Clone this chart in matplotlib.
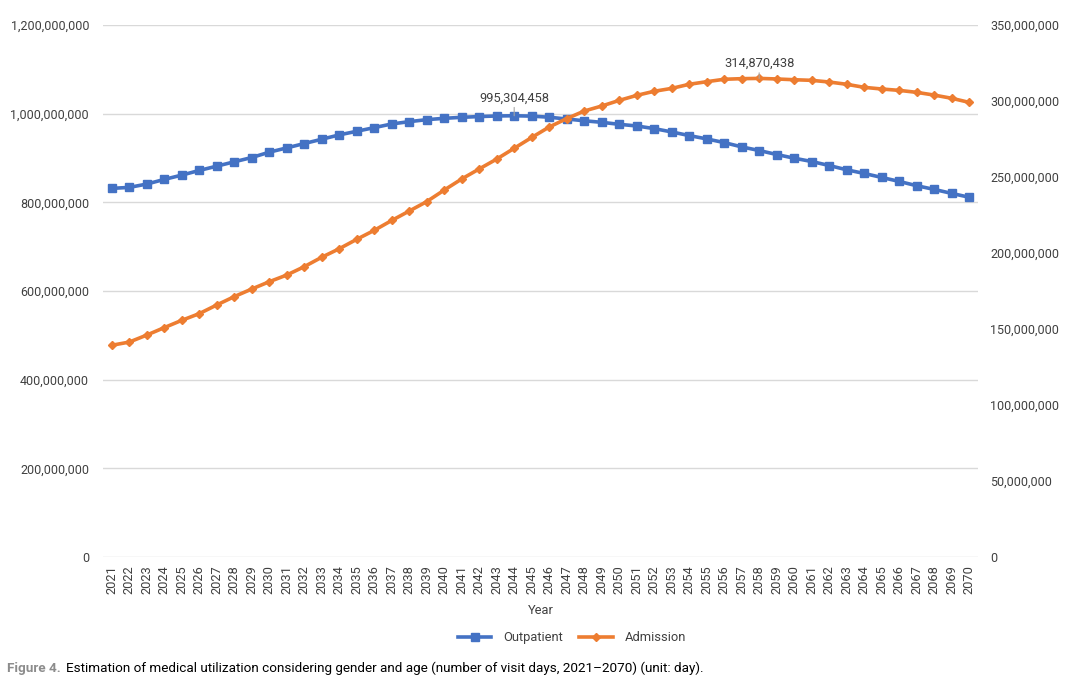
import matplotlib
matplotlib.use("Agg")
import matplotlib.pyplot as plt
from matplotlib.ticker import FuncFormatter
from matplotlib.lines import Line2D

years = list(range(2021, 2071))

outpatient_m = [
    831.5, 833.7, 841.2, 851.7, 861.4, 871.9, 881.6, 891.4, 901.1, 913.1,
    922.8, 932.6, 942.3, 952.1, 960.3, 968.5, 976.8, 982.0, 986.5, 989.5,
    991.8, 993.5, 994.8, 995.304458, 994.5, 992.0, 988.0, 984.0, 980.5, 976.0,
    972.3, 966.3, 958.8, 950.6, 943.1, 934.8, 925.1, 916.9, 907.9, 899.6,
    892.1, 883.1, 873.4, 865.2, 856.2, 847.2, 837.5, 829.2, 820.2, 811.5,
]
admission_m = [
    139.3, 141.4, 146.0, 150.9, 155.7, 160.1, 165.8, 171.3, 176.3, 181.1,
    185.5, 191.0, 197.2, 202.8, 209.0, 214.9, 221.4, 227.6, 233.8, 241.4,
    248.7, 255.3, 261.8, 268.9, 276.0, 282.9, 288.4, 293.4, 296.7, 300.4,
    303.7, 306.4, 308.3, 311.0, 312.7, 314.3, 314.7, 314.870438, 314.5, 314.0,
    313.6, 312.5, 311.0, 309.0, 307.9, 307.0, 305.7, 303.9, 301.8, 299.1,
]
outpatient = [v * 1e6 for v in outpatient_m]
admission = [v * 1e6 for v in admission_m]

left_ticks = [0, 200e6, 400e6, 600e6, 800e6, 1000e6, 1200e6]
right_ticks = [0, 50e6, 100e6, 150e6, 200e6, 250e6, 300e6, 350e6]

series_names = ["Outpatient", "Admission"]
caption_label = "Figure 4."
caption_text = "Estimation of medical utilization considering gender and age (number of visit days, 2021\u20132070) (unit: day)."

BLUE = "#4472C4"
ORANGE = "#ED7D31"
TXT = "#404040"
GRID = "#D9D9D9"

plt.rcParams["font.family"] = ["Roboto", "DejaVu Sans"]

fig = plt.figure(figsize=(10.67, 6.87), dpi=100)
ax = fig.add_axes([0.0965, 0.1892, 0.82, 0.7744])
ax2 = ax.twinx()

x = list(range(len(years)))

ax.plot(x, outpatient, color=BLUE, lw=2.6, marker="s", ms=5.5, zorder=3)
ax2.plot(x, admission, color=ORANGE, lw=2.6, marker="D", ms=4, zorder=3)

ax.set_xlim(-0.5, len(years) - 0.5)
ax.set_ylim(0, 1200e6)
ax2.set_ylim(0, 350e6)
ax.set_yticks(left_ticks)
ax2.set_yticks(right_ticks)
fmt = FuncFormatter(lambda v, p: f"{int(round(v)):,}")
ax.yaxis.set_major_formatter(fmt)
ax2.yaxis.set_major_formatter(fmt)

ax.set_xticks(x)
ax.set_xticklabels([str(y) for y in years], rotation=90, fontsize=9.3, color=TXT)
ax.tick_params(axis="y", labelsize=9, labelcolor=TXT, length=0, pad=10)
ax2.tick_params(axis="y", labelsize=9, labelcolor=TXT, length=0, pad=9)
ax.tick_params(axis="x", length=0, pad=6)

ax.grid(axis="y", color=GRID, lw=1)
ax.set_axisbelow(True)
for a in (ax, ax2):
    for s in a.spines.values():
        s.set_visible(False)

ax.set_xlabel("Year", fontsize=9.3, color=TXT, labelpad=7)

# annotations at maxima
i_o = outpatient.index(max(outpatient))
ax.annotate(f"{int(round(outpatient[i_o])):,}", xy=(i_o, outpatient[i_o]),
            xytext=(0, 8), textcoords="offset points", ha="center", va="bottom",
            fontsize=9.3, color=TXT,
            arrowprops=dict(arrowstyle="-", color="#A6A6A6", lw=0.8, shrinkA=0, shrinkB=0))
i_a = admission.index(max(admission))
ax2.annotate(f"{int(round(admission[i_a])):,}", xy=(i_a, admission[i_a]),
             xytext=(0, 6), textcoords="offset points", ha="center", va="bottom",
             fontsize=9.3, color=TXT,
             arrowprops=dict(arrowstyle="-", color="#A6A6A6", lw=0.8, shrinkA=0, shrinkB=0))

handles = [
    Line2D([], [], color=BLUE, lw=2.6, marker="s", ms=5.5),
    Line2D([], [], color=ORANGE, lw=2.6, marker="D", ms=4),
]
fig.legend(handles, series_names, loc="center", bbox_to_anchor=(0.536, 0.072),
           ncol=2, frameon=False, fontsize=9.3, labelcolor=TXT,
           handlelength=2.6, columnspacing=1.3, handletextpad=0.9)

fig.text(0.007, 0.022, caption_label, fontsize=9.7, color="#8C8C8C", fontweight="bold")
fig.text(0.062, 0.022, caption_text, fontsize=9.7, color="black")

fig.savefig("out.png", dpi=100)
